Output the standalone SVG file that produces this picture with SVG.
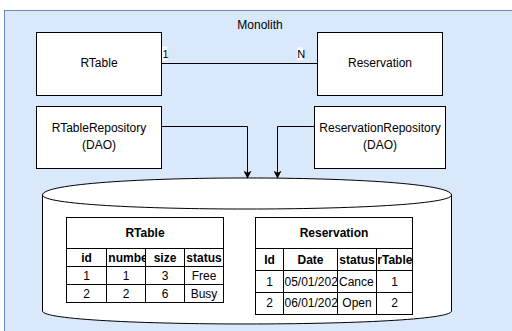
<svg xmlns="http://www.w3.org/2000/svg" width="512" height="331" viewBox="0 0 512 331">
  <defs>
    <marker id="arrow" viewBox="0 0 10 10" refX="9" refY="5" markerWidth="8" markerHeight="8" markerUnits="userSpaceOnUse" orient="auto">
      <path d="M0,0 L10,5 L0,10 L2.5,5 Z" fill="#000"/>
    </marker>
    <clipPath id="c-number"><rect x="106.5" y="248.5" width="39" height="18"/></clipPath>
    <clipPath id="c-date1"><rect x="283.5" y="270.5" width="54" height="22"/></clipPath>
    <clipPath id="c-date2"><rect x="283.5" y="292.5" width="54" height="22"/></clipPath>
    <clipPath id="c-cancel"><rect x="337.5" y="270.5" width="39" height="22"/></clipPath>
    <clipPath id="c-rtable"><rect x="376.5" y="248.5" width="36" height="22"/></clipPath>
  </defs>
  <style>
    text { font-family: "Liberation Sans", Arial, Helvetica, sans-serif; font-size: 12px; fill: #000; }
    .c { text-anchor: middle; }
    .b { font-weight: bold; }
    .lbl { font-size: 11px; }
    .box { fill: #fff; stroke: #000; stroke-width: 1; }
    .grid { fill: none; stroke: #000; stroke-width: 1; }
    .edge { fill: none; stroke: #000; stroke-width: 1; }
  </style>

  <!-- container -->
  <g id="monolith">
    <rect x="4.5" y="10.5" width="520" height="340" fill="#dae8fc" stroke="#6c8ebf" stroke-width="1"/>
    <text class="c" x="260" y="28.5">Monolith</text>
  </g>

  <!-- domain classes -->
  <g id="rtable">
    <rect class="box" x="36.5" y="32.5" width="125" height="63"/>
    <text class="c" x="99" y="66.5">RTable</text>
  </g>
  <g id="reservation">
    <rect class="box" x="317.5" y="32.5" width="125" height="63"/>
    <text class="c" x="380" y="66.5">Reservation</text>
  </g>

  <!-- repositories -->
  <g id="rtable-repository">
    <rect class="box" x="36.5" y="106.5" width="125" height="62"/>
    <text class="c" x="99" y="132">RTableRepository</text>
    <text class="c" x="99" y="148.5">(DAO)</text>
  </g>
  <g id="reservation-repository">
    <rect class="box" x="314.5" y="106.5" width="131" height="62"/>
    <text class="c" x="380" y="132">ReservationRepository</text>
    <text class="c" x="380" y="148.5">(DAO)</text>
  </g>

  <!-- database -->
  <g id="database">
    <path class="box" d="M42.5,195 C42.5,172.3 451.5,172.3 451.5,195 L451.5,311 C451.5,328.3 42.5,328.3 42.5,311 Z"/>
    <path class="edge" d="M42.5,195 C42.5,213.7 451.5,213.7 451.5,195"/>

    <!-- RTable table -->
    <g id="rtable-table">
      <rect class="box" x="66.5" y="217.5" width="157" height="85"/>
      <path class="grid" d="M66.5,248.5 H223.5 M66.5,266.5 H223.5 M66.5,284.5 H223.5 M106.5,248.5 V302.5 M145.5,248.5 V302.5 M184.5,248.5 V302.5"/>
      <text class="c b" x="145" y="237">RTable</text>
      <text class="c b" x="86.5" y="261.7">id</text>
      <text class="b" x="108.3" y="261.7" clip-path="url(#c-number)">numbe</text>
      <text class="c b" x="165" y="261.7">size</text>
      <text class="c b" x="204" y="261.7">status</text>
      <text class="c" x="86.5" y="279.7">1</text>
      <text class="c" x="126" y="279.7">1</text>
      <text class="c" x="165" y="279.7">3</text>
      <text class="c" x="204" y="279.7">Free</text>
      <text class="c" x="86.5" y="297.7">2</text>
      <text class="c" x="126" y="297.7">2</text>
      <text class="c" x="165" y="297.7">6</text>
      <text class="c" x="204" y="297.7">Busy</text>
    </g>

    <!-- Reservation table -->
    <g id="reservation-table">
      <rect class="box" x="255.5" y="217.5" width="157" height="97"/>
      <path class="grid" d="M255.5,248.5 H412.5 M255.5,270.5 H412.5 M255.5,292.5 H412.5 M283.5,248.5 V314.5 M337.5,248.5 V314.5 M376.5,248.5 V314.5"/>
      <text class="c b" x="334" y="237">Reservation</text>
      <text class="c b" x="269.5" y="263.5">Id</text>
      <text class="c b" x="310.5" y="263.5">Date</text>
      <text class="c b" x="357" y="263.5">status</text>
      <text class="b" x="377.3" y="263.5" clip-path="url(#c-rtable)">rTable</text>
      <text class="c" x="269.5" y="285.5">1</text>
      <text x="284.5" y="285.5" clip-path="url(#c-date1)">05/01/202</text>
      <text x="339" y="285.5" clip-path="url(#c-cancel)">Cance</text>
      <text class="c" x="394.5" y="285.5">1</text>
      <text class="c" x="269.5" y="307.2">2</text>
      <text x="284.5" y="307.2" clip-path="url(#c-date2)">06/01/202</text>
      <text class="c" x="357" y="307.2">Open</text>
      <text class="c" x="394.5" y="307.2">2</text>
    </g>
  </g>

  <!-- connectors -->
  <g id="connectors">
    <path class="edge" d="M161.5,63.5 H317.5"/>
    <rect x="162" y="46.5" width="5.5" height="14" fill="#fff"/>
    <text class="lbl" x="162.5" y="57.5">1</text>
    <rect x="297" y="47.5" width="6" height="12.5" fill="#fff"/>
    <text class="lbl" x="297.2" y="57.8">N</text>
    <path class="edge" d="M161.5,126.5 H247.5 V178" marker-end="url(#arrow)"/>
    <path class="edge" d="M314.5,126.5 H277.5 V178" marker-end="url(#arrow)"/>
  </g>
</svg>
